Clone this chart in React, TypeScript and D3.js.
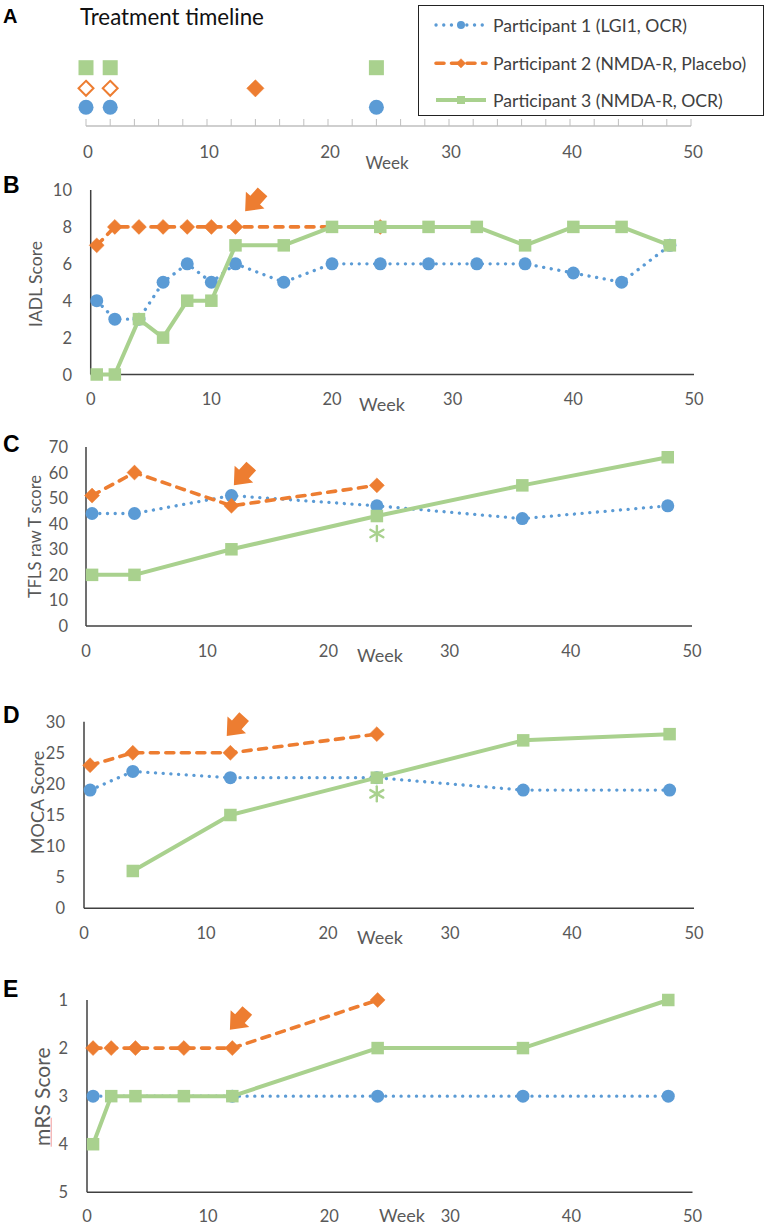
import React from 'react';
import * as d3 from 'd3';

// ---------- DATA ----------
const seriesNames = [
  'Participant 1 (LGI1, OCR)',
  'Participant 2 (NMDA-R, Placebo)',
  'Participant 3 (NMDA-R, OCR)',
];
const weekTickLabels = [0, 10, 20, 30, 40, 50];

// Panel A: treatment timeline (weeks of infusions)
const timelineP1 = [0, 2, 24];
const timelineP2Placebo = [0, 2];
const timelineP2Drug = [14];
const timelineP3 = [0, 2, 24];

// Panel B: IADL score
const iadlWeeksP1 = [0.5, 2, 4, 6, 8, 10, 12, 16, 20, 24, 28, 32, 36, 40, 44, 48];
const iadlP1 = [4, 3, 3, 5, 6, 5, 6, 5, 6, 6, 6, 6, 6, 5.5, 5, 7];
const iadlWeeksP2 = [0.5, 2, 4, 6, 8, 10, 12, 24];
const iadlP2 = [7, 8, 8, 8, 8, 8, 8, 8];
const iadlWeeksP3 = [0.5, 2, 4, 6, 8, 10, 12, 16, 20, 24, 28, 32, 36, 40, 44, 48];
const iadlP3 = [0, 0, 3, 2, 4, 4, 7, 7, 8, 8, 8, 8, 7, 8, 8, 7];
const iadlTicks = [0, 2, 4, 6, 8, 10];

// Panel C: TFLS raw T score
const tflsWeeksP1 = [0.5, 4, 12, 24, 36, 48];
const tflsP1 = [44, 44, 51, 47, 42, 47];
const tflsWeeksP2 = [0.5, 4, 12, 24];
const tflsP2 = [51, 60, 47, 55];
const tflsWeeksP3 = [0.5, 4, 12, 24, 36, 48];
const tflsP3 = [20, 20, 30, 43, 55, 66];
const tflsTicks = [0, 10, 20, 30, 40, 50, 60, 70];

// Panel D: MOCA score
const mocaWeeksP1 = [0.5, 4, 12, 24, 36, 48];
const mocaP1 = [19, 22, 21, 21, 19, 19];
const mocaWeeksP2 = [0.5, 4, 12, 24];
const mocaP2 = [23, 25, 25, 28];
const mocaWeeksP3 = [4, 12, 24, 36, 48];
const mocaP3 = [6, 15, 21, 27, 28];
const mocaTicks = [0, 5, 10, 15, 20, 25, 30];

// Panel E: mRS score (reversed axis)
const mrsWeeksP1 = [0.5, 12, 24, 36, 48];
const mrsP1 = [3, 3, 3, 3, 3];
const mrsWeeksP2 = [0.5, 2, 4, 8, 12, 24];
const mrsP2 = [2, 2, 2, 2, 2, 1];
const mrsWeeksP3 = [0.5, 2, 4, 8, 12, 24, 36, 48];
const mrsP3 = [4, 3, 3, 3, 3, 2, 2, 1];
const mrsTicks = [1, 2, 3, 4, 5];

// Annotations: treatment-switch arrows (tip at week, value) and asterisks
const arrowB = { week: 12.8, value: 8.85 };
const arrowC = { week: 12.2, value: 55 };
const arrowD = { week: 11.7, value: 27.7 };
const arrowE = { week: 11.8, value: 1.62 };
const asteriskC = { week: 24, value: 36.2 };
const asteriskD = { week: 24, value: 18.4 };

// ---------- STYLE ----------
const BLUE = '#5b9bd5';
const ORANGE = '#ed7d31';
const GREEN = '#a9d18e';
const FONT = 'Lato, "Open Sans", sans-serif';
const TXT = '#595959';
const AXIS = '#404040';

type Kind = 'p1' | 'p2' | 'p3';
const lineStyle: Record<Kind, any> = {
  p1: { stroke: BLUE, strokeWidth: 3.3, strokeDasharray: '0.1 7.6', strokeLinecap: 'round' },
  p2: { stroke: ORANGE, strokeWidth: 3.6, strokeDasharray: '8 7.5', strokeLinecap: 'round' },
  p3: { stroke: GREEN, strokeWidth: 4, strokeLinejoin: 'round' },
};

function Marker({ kind, x, y, s, hollow }: { kind: Kind; x: number; y: number; s: number; hollow?: boolean }) {
  if (kind === 'p1') return <circle cx={x} cy={y} r={s / 2} fill={BLUE} />;
  if (kind === 'p2') {
    const r = (s / 2) * 1.15;
    return (
      <path
        d={`M${x},${y - r}L${x + r},${y}L${x},${y + r}L${x - r},${y}Z`}
        fill={hollow ? '#fff' : ORANGE}
        stroke={ORANGE}
        strokeWidth={hollow ? 2 : 0.5}
      />
    );
  }
  return <rect x={x - s / 2} y={y - s / 2} width={s} height={s} fill={GREEN} />;
}

function Arrow({ x, y }: { x: number; y: number }) {
  const L = 26, h = 15, w = 12.5, s = 6.5;
  const d = `M0,0L${-h},${-w}L${-h},${-s}L${-L},${-s}L${-L},${s}L${-h},${s}L${-h},${w}Z`;
  return <path d={d} fill={ORANGE} transform={`translate(${x},${y}) rotate(132)`} />;
}

function Asterisk({ x, y }: { x: number; y: number }) {
  const r = 7.5;
  const a = (Math.PI / 180) * 30;
  const dx = r * Math.cos(a), dy = r * Math.sin(a);
  return (
    <g stroke={GREEN} strokeWidth={2.4} strokeLinecap="round">
      <line x1={x} y1={y - r} x2={x} y2={y + r} />
      <line x1={x - dx} y1={y - dy} x2={x + dx} y2={y + dy} />
      <line x1={x - dx} y1={y + dy} x2={x + dx} y2={y - dy} />
    </g>
  );
}

type SeriesDef = { kind: Kind; weeks: number[]; values: number[] };

type PanelCfg = {
  letter: string;
  letterY: number;
  left: number;
  right: number;
  yDomain: [number, number];
  yRange: [number, number];
  axisY: number;
  yTicks: number[];
  yTickX: number;
  yLabel: string;
  yLabelX: number;
  yLabelY: number;
  yLabelSize: number;
  xLabelY: number;
  weekX: number;
  weekY: number;
  series: SeriesDef[];
  arrow: { week: number; value: number };
  asterisk?: { week: number; value: number };
  squiggle?: boolean;
};

function Panel({ cfg }: { cfg: PanelCfg }) {
  const x = d3.scaleLinear().domain([0, 50]).range([cfg.left, cfg.right]);
  const y = d3.scaleLinear().domain(cfg.yDomain).range(cfg.yRange);
  const top = Math.min(...cfg.yRange);
  const line = d3
    .line<[number, number]>()
    .x((d) => x(d[0]))
    .y((d) => y(d[1]));
  return (
    <g>
      <text x={3} y={cfg.letterY} fontFamily="Liberation Sans, Arial, sans-serif" fontWeight="bold" fontSize={23} fill="#000">
        {cfg.letter}
      </text>
      <line x1={cfg.left} y1={top} x2={cfg.left} y2={cfg.axisY} stroke={AXIS} strokeWidth={1.5} />
      <line x1={cfg.left} y1={cfg.axisY} x2={cfg.right} y2={cfg.axisY} stroke={AXIS} strokeWidth={1.5} />
      {cfg.yTicks.map((t) => (
        <text key={t} x={cfg.yTickX} y={y(t)} textAnchor="end" dominantBaseline="central" fontFamily={FONT} fontSize={16.5} fill={TXT}>
          {t}
        </text>
      ))}
      {weekTickLabels.map((t) => (
        <text key={t} x={x(t)} y={cfg.xLabelY} textAnchor="middle" dominantBaseline="central" fontFamily={FONT} fontSize={16.5} fill={TXT}>
          {t}
        </text>
      ))}
      <text x={cfg.weekX} y={cfg.weekY} textAnchor="middle" dominantBaseline="central" fontFamily={FONT} fontSize={18} fill={TXT}>
        Week
      </text>
      <text
        transform={`translate(${cfg.yLabelX},${cfg.yLabelY}) rotate(-90)`}
        textAnchor="middle"
        dominantBaseline="central"
        fontFamily={FONT}
        fontSize={cfg.yLabelSize}
        fill={TXT}
      >
        {cfg.yLabel}
      </text>
      {cfg.squiggle && (
        <line x1={cfg.yLabelX + 9.5} y1={cfg.yLabelY + 21} x2={cfg.yLabelX + 9.5} y2={cfg.yLabelY + 50} stroke="#f19a9a" strokeWidth={1} />
      )}
      {cfg.series.map((s, i) => {
        const pts = s.weeks.map((w, j) => [w, s.values[j]] as [number, number]);
        return (
          <g key={i}>
            <path d={line(pts) || ''} fill="none" {...lineStyle[s.kind]} />
            {pts.map((p, j) => (
              <Marker key={j} kind={s.kind} x={x(p[0])} y={y(p[1])} s={s.kind === 'p3' ? 12.5 : 13} />
            ))}
          </g>
        );
      })}
      <Arrow x={x(cfg.arrow.week)} y={y(cfg.arrow.value)} />
      {cfg.asterisk && <Asterisk x={x(cfg.asterisk.week)} y={y(cfg.asterisk.value)} />}
    </g>
  );
}

const panels: PanelCfg[] = [
  {
    letter: 'B', letterY: 193, left: 90.7, right: 694, yDomain: [0, 10], yRange: [374.5, 190], axisY: 374.5,
    yTicks: iadlTicks, yTickX: 72, yLabel: 'IADL Score', yLabelX: 35, yLabelY: 284, yLabelSize: 17.5,
    xLabelY: 399, weekX: 382, weekY: 404,
    series: [
      { kind: 'p1', weeks: iadlWeeksP1, values: iadlP1 },
      { kind: 'p2', weeks: iadlWeeksP2, values: iadlP2 },
      { kind: 'p3', weeks: iadlWeeksP3, values: iadlP3 },
    ],
    arrow: arrowB,
  },
  {
    letter: 'C', letterY: 452, left: 86, right: 692, yDomain: [0, 70], yRange: [626, 447], axisY: 626,
    yTicks: tflsTicks, yTickX: 68, yLabel: 'TFLS raw T score', yLabelX: 35, yLabelY: 536.5, yLabelSize: 16.5,
    xLabelY: 651, weekX: 380, weekY: 655,
    series: [
      { kind: 'p1', weeks: tflsWeeksP1, values: tflsP1 },
      { kind: 'p2', weeks: tflsWeeksP2, values: tflsP2 },
      { kind: 'p3', weeks: tflsWeeksP3, values: tflsP3 },
    ],
    arrow: arrowC, asterisk: asteriskC,
  },
  {
    letter: 'D', letterY: 723, left: 84, right: 694, yDomain: [0, 30], yRange: [908.3, 721.7], axisY: 908.3,
    yTicks: mocaTicks, yTickX: 65, yLabel: 'MOCA Score', yLabelX: 36.7, yLabelY: 802.5, yLabelSize: 18,
    xLabelY: 933, weekX: 380, weekY: 937,
    series: [
      { kind: 'p1', weeks: mocaWeeksP1, values: mocaP1 },
      { kind: 'p2', weeks: mocaWeeksP2, values: mocaP2 },
      { kind: 'p3', weeks: mocaWeeksP3, values: mocaP3 },
    ],
    arrow: arrowD, asterisk: asteriskD,
  },
  {
    letter: 'E', letterY: 997, left: 87, right: 692.5, yDomain: [1, 5], yRange: [1000, 1192.3], axisY: 1192.3,
    yTicks: mrsTicks, yTickX: 68, yLabel: 'mRS Score', yLabelX: 41.7, yLabelY: 1096.7, yLabelSize: 21,
    xLabelY: 1215.5, weekX: 402, weekY: 1214.5,
    series: [
      { kind: 'p1', weeks: mrsWeeksP1, values: mrsP1 },
      { kind: 'p2', weeks: mrsWeeksP2, values: mrsP2 },
      { kind: 'p3', weeks: mrsWeeksP3, values: mrsP3 },
    ],
    arrow: arrowE, squiggle: true,
  },
];

function Timeline() {
  const x = d3.scaleLinear().domain([0, 50]).range([86, 691]);
  const axisY = 126;
  const minorTicks = d3.range(0, 51, 2);
  const rowY = { p3: 67.7, p2: 88.3, p1: 107.3 };
  return (
    <g>
      <text x={3} y={22.7} fontFamily="Liberation Sans, Arial, sans-serif" fontWeight="bold" fontSize={20} fill="#000">
        A
      </text>
      <text x={80} y={25} fontFamily={FONT} fontSize={22.3} fill="#111">
        Treatment timeline
      </text>
      <line x1={x(0)} y1={axisY} x2={x(50)} y2={axisY} stroke="#bfbfbf" strokeWidth={1.3} />
      {minorTicks.map((t) => (
        <line key={t} x1={x(t)} y1={axisY} x2={x(t)} y2={axisY - 7} stroke="#bfbfbf" strokeWidth={1} />
      ))}
      {weekTickLabels.map((t) => (
        <text key={t} x={x(t) + 2} y={151} textAnchor="middle" dominantBaseline="central" fontFamily={FONT} fontSize={17} fill={TXT}>
          {t}
        </text>
      ))}
      <text x={387} y={162} textAnchor="middle" dominantBaseline="central" fontFamily={FONT} fontSize={17} fill={TXT}>
        Week
      </text>
      {timelineP3.map((w) => (
        <Marker key={'g' + w} kind="p3" x={x(w)} y={rowY.p3} s={15} />
      ))}
      {timelineP2Placebo.map((w) => (
        <Marker key={'o' + w} kind="p2" x={x(w)} y={rowY.p2} s={13} hollow />
      ))}
      {timelineP2Drug.map((w) => (
        <Marker key={'f' + w} kind="p2" x={x(w)} y={rowY.p2} s={15} />
      ))}
      {timelineP1.map((w) => (
        <Marker key={'b' + w} kind="p1" x={x(w)} y={rowY.p1} s={15} />
      ))}
    </g>
  );
}

function Legend() {
  const kinds: Kind[] = ['p1', 'p2', 'p3'];
  const rows = [25, 63.3, 100];
  return (
    <g>
      <rect x={418.5} y={5.5} width={345} height={110} fill="#fff" stroke="#222" strokeWidth={1} />
      {kinds.map((k, i) => (
        <g key={k}>
          <line x1={436} y1={rows[i]} x2={486} y2={rows[i]} {...lineStyle[k]} />
          <Marker kind={k} x={461} y={rows[i]} s={8} />
          <text x={493} y={rows[i]} dominantBaseline="central" fontFamily={FONT} fontSize={17.6} fill="#404040">
            {seriesNames[i]}
          </text>
        </g>
      ))}
    </g>
  );
}

export default function App() {
  return (
    <svg width={767} height={1226} style={{ position: 'absolute', left: 0, top: 0, background: '#fff' }}>
      <rect width={767} height={1226} fill="#fff" />
      <Timeline />
      <Legend />
      {panels.map((p) => (
        <Panel key={p.letter} cfg={p} />
      ))}
    </svg>
  );
}
